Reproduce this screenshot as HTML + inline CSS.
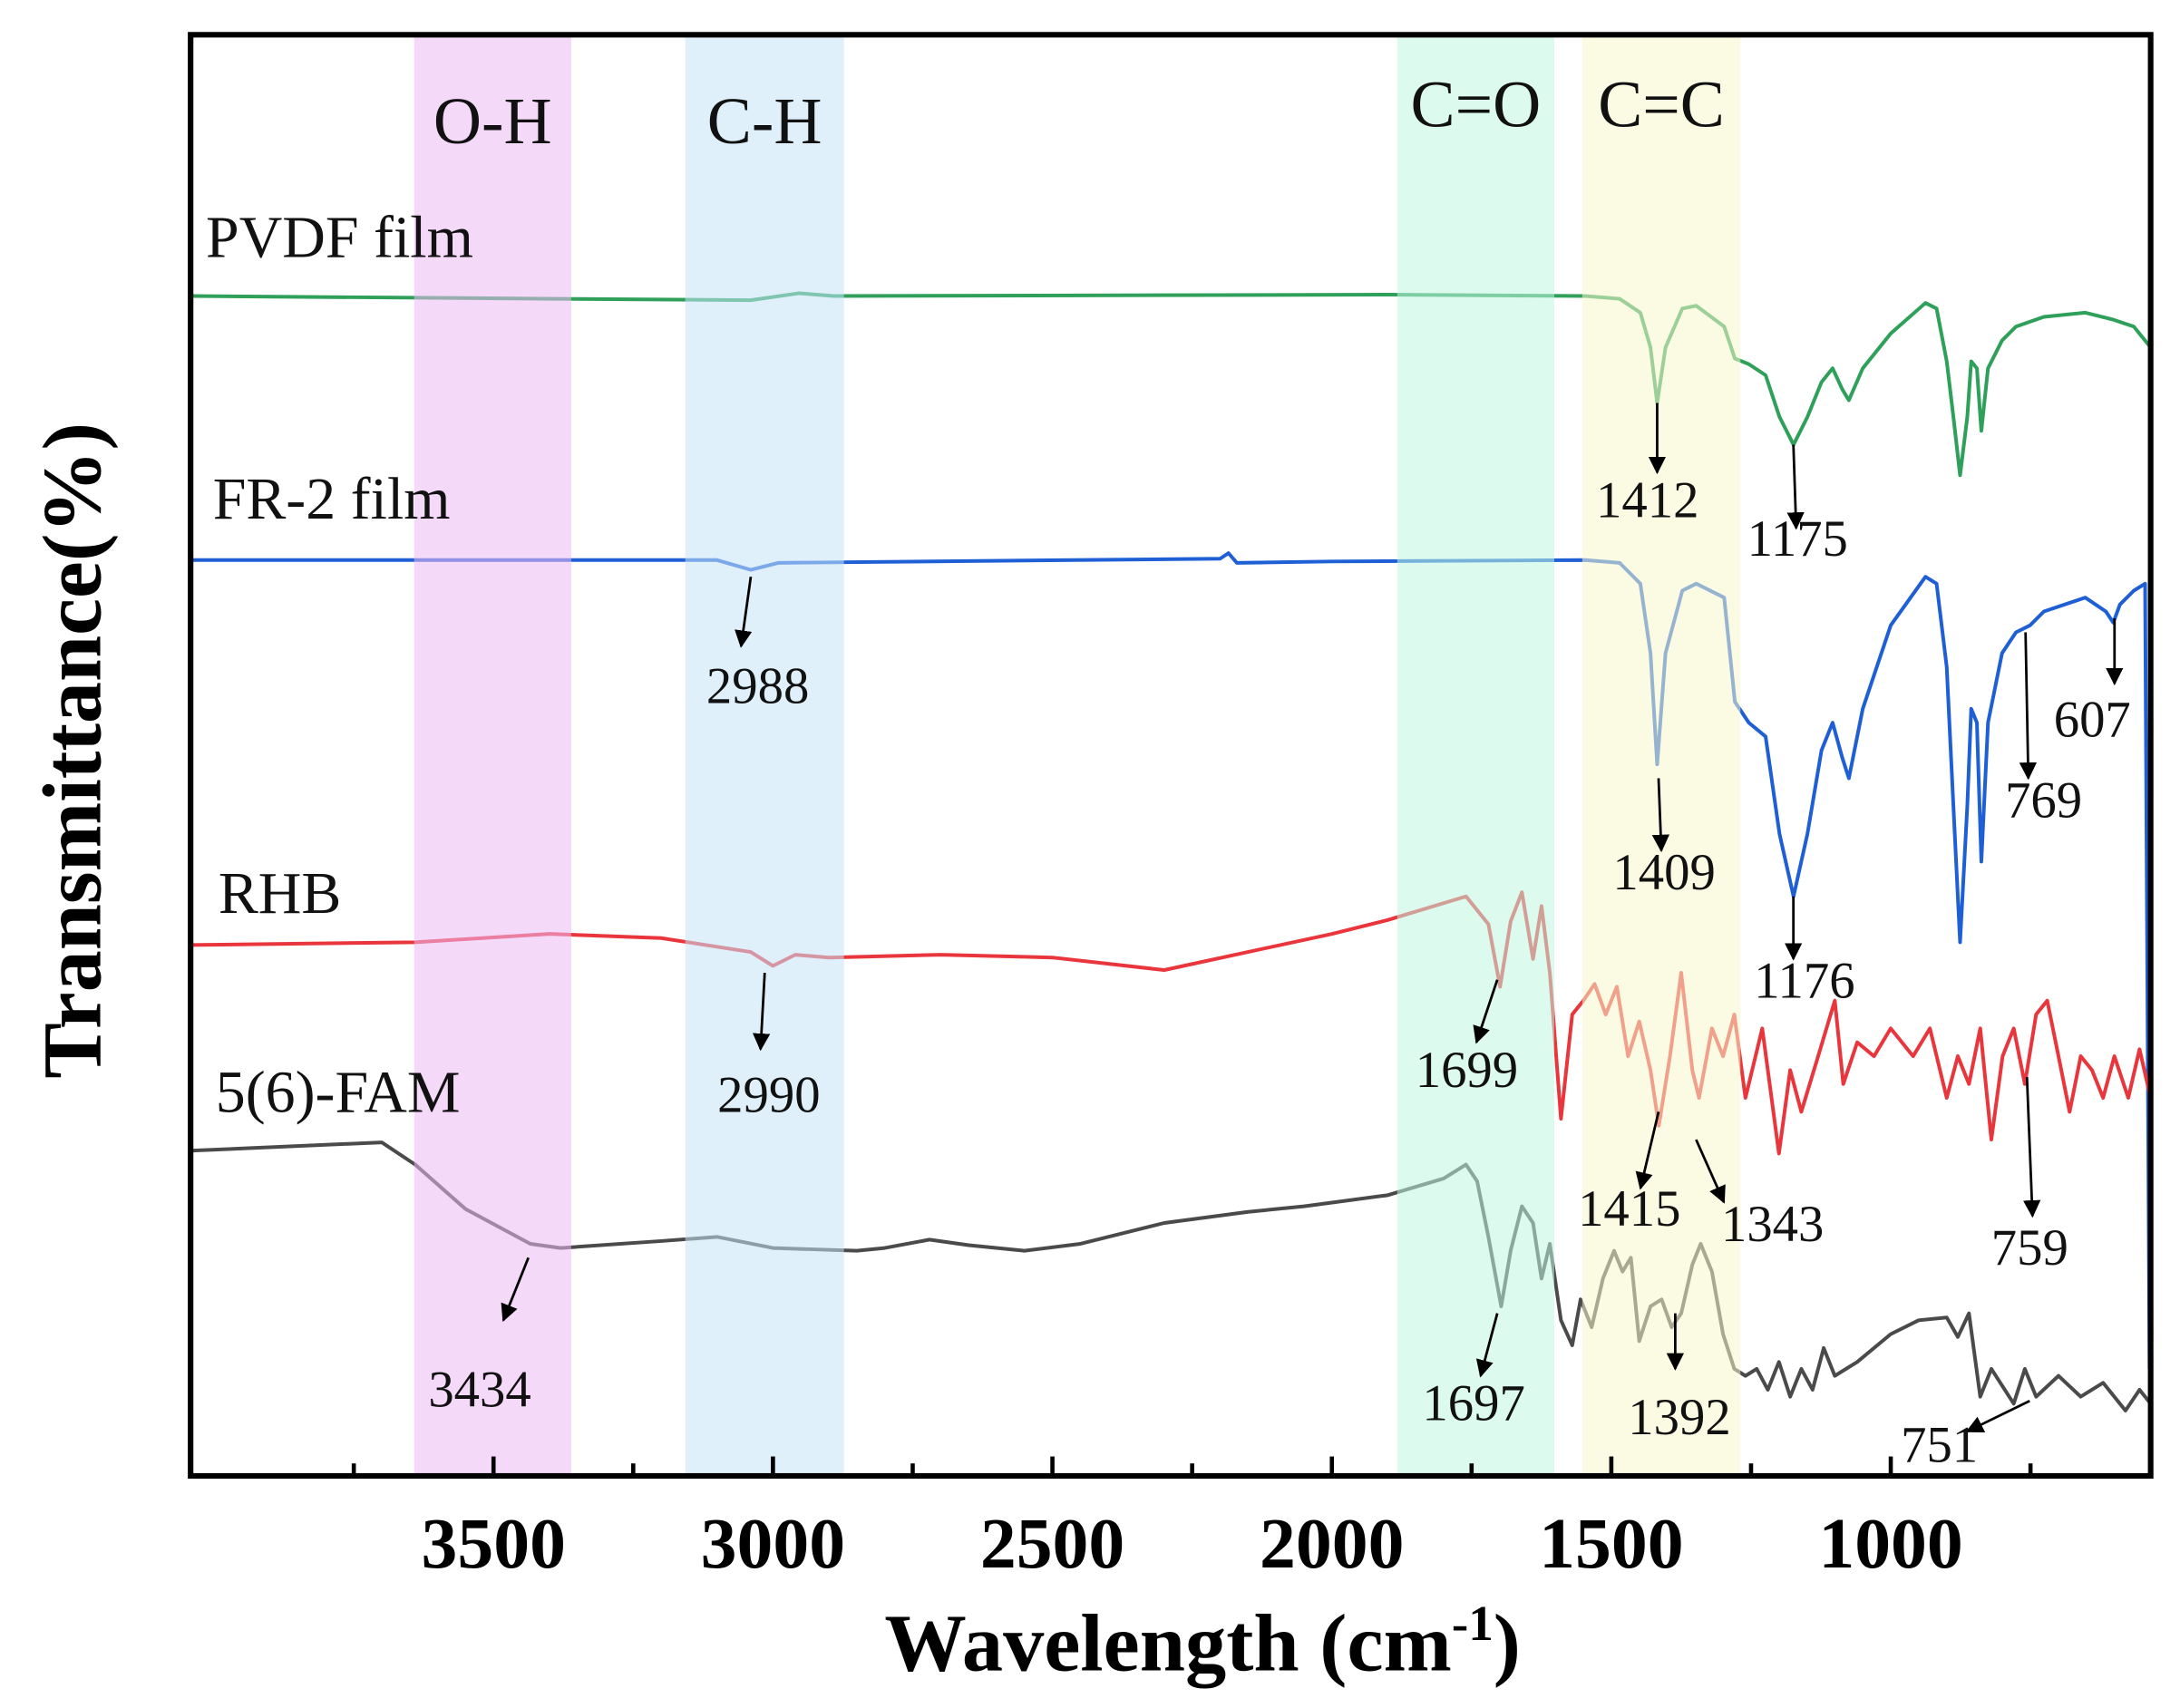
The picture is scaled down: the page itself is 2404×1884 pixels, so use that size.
<!DOCTYPE html>
<html><head><meta charset="utf-8"><style>
html,body{margin:0;padding:0;background:#fff;}
svg{display:block;}
text{font-family:"Liberation Serif",serif;}
</style></head><body>
<svg id="chart" width="2404" height="1884" viewBox="0 0 1568 1229" xmlns="http://www.w3.org/2000/svg">
<g id="series"></g>
<g id="bands"></g>
<g id="axes"></g>
<g id="ann"></g>
</svg>
<script>
const xTicks=[3500,3000,2500,2000,1500,1000];
const xMinor=[3750,3250,2750,2250,1750,1250,750];
const bandNames=["O-H","C-H","C=O","C=C"];
const bandFrom=[3642,3157,1883,1552];
const bandTo=[3361,2873,1602,1269];
const seriesNames=["PVDF film","FR-2 film","RHB","5(6)-FAM"];
const pvdfW=[4042,3388,3040,2953,2891,1896,1547,1485,1448,1430,1418,1403,1373,1348,1298,1279,1254,1224,1199,1174,1149,1124,1104,1087,1075,1050,1000,938,918,900,888,876,863,856,846,838,826,801,776,726,652,602,565,535];
const pvdfT=[84.9,84.7,84.6,85.1,84.9,85.0,84.9,84.7,83.7,81.2,77.2,81.2,84.0,84.2,82.7,80.4,80.0,79.2,76.2,74.2,76.2,78.7,79.7,78.2,77.4,79.7,82.2,84.4,84.0,80.2,76.2,72.0,76.2,80.2,79.7,75.2,79.7,81.7,82.7,83.4,83.7,83.2,82.7,81.2];
const fr2W=[4042,3100,3040,2990,2200,2185,2170,2000,1547,1485,1448,1430,1418,1403,1373,1348,1298,1279,1254,1224,1199,1174,1149,1124,1104,1087,1075,1050,1000,938,918,900,888,876,863,856,846,838,826,801,776,751,726,652,615,602,590,565,545,537];
const fr2T=[65.9,65.9,65.2,65.7,66.0,66.4,65.7,65.8,65.9,65.7,64.2,59.2,51.2,59.2,63.7,64.2,63.2,55.7,54.2,53.2,46.2,41.7,46.2,52.2,54.2,51.7,50.2,55.2,61.2,64.7,64.2,58.2,48.2,38.4,48.2,55.2,54.2,44.2,54.2,59.2,60.7,61.2,62.2,63.2,62.2,61.4,62.7,63.7,64.2,7.7];
const rhbW=[4042,3640,3400,3200,3040,3000,2960,2900,2700,2500,2300,2150,2000,1900,1760,1720,1699,1680,1660,1640,1625,1610,1590,1570,1550,1530,1510,1490,1470,1450,1430,1415,1395,1375,1355,1343,1320,1300,1280,1260,1230,1200,1180,1160,1130,1100,1085,1060,1030,1000,960,930,900,880,860,840,820,800,780,760,740,720,700,680,660,640,620,600,575,555,535];
const rhbT=[38.2,38.4,39.0,38.7,37.7,36.7,37.5,37.3,37.5,37.3,36.4,37.7,39.0,40.0,41.7,39.7,35.2,39.9,42.0,37.2,41.0,36.2,25.7,33.2,34.2,35.4,33.2,35.2,30.2,32.7,29.2,25.2,30.2,36.2,29.2,27.2,32.2,30.2,33.2,27.2,32.2,23.2,29.2,26.2,30.2,34.2,28.2,31.2,30.2,32.2,30.2,32.2,27.2,30.2,28.2,32.2,24.2,30.2,32.2,28.2,33.2,34.2,30.2,26.2,30.2,29.2,27.2,30.2,27.2,30.7,27.2];
const famW=[4042,3700,3640,3550,3434,3380,3200,3100,3000,2850,2800,2720,2650,2550,2450,2300,2150,2050,1900,1800,1760,1740,1720,1697,1680,1660,1640,1625,1610,1590,1570,1555,1535,1515,1495,1480,1465,1450,1430,1410,1392,1375,1355,1340,1320,1300,1280,1260,1240,1220,1200,1180,1160,1140,1120,1100,1060,1000,950,900,880,860,840,820,780,760,740,700,660,620,580,555,535];
const famT=[23.4,24.0,22.4,19.2,16.7,16.4,16.9,17.2,16.4,16.2,16.4,17.0,16.6,16.2,16.7,18.2,19.0,19.4,20.2,21.4,22.4,21.2,17.2,12.2,16.2,19.4,18.2,14.2,16.7,11.2,9.4,12.7,10.7,14.2,16.2,14.7,15.7,9.7,12.2,12.7,10.7,11.7,15.2,16.7,14.7,10.2,7.7,7.2,7.7,6.2,8.2,5.7,7.7,6.2,9.2,7.2,8.2,10.2,11.2,11.4,10.0,11.7,5.7,7.7,5.2,7.7,5.7,7.2,5.7,6.7,4.7,6.2,5.2];

const NS="http://www.w3.org/2000/svg";
const L=137,R=1547,T=25,B=1062;
const x=w=>L+(4042-w)/(4042-535)*(R-L);
const y=v=>B-(v/103.7)*(B-T);
function mk(tag,attrs,parent,txt){const e=document.createElementNS(NS,tag);for(const k in attrs)e.setAttribute(k,attrs[k]);if(txt!==undefined)e.textContent=txt;parent.appendChild(e);return e;}

const S=document.getElementById('series');
const colors=["#2ea05a","#1f5fd6","#e8363c","#4a4a4a"];
const Ws=[pvdfW,fr2W,rhbW,famW],Ts=[pvdfT,fr2T,rhbT,famT];
const ids=["pvdf-line","fr2-line","rhb-line","fam-line"];
for(let s=0;s<4;s++){
  const d=Ws[s].map((w,i)=>(i?'L':'M')+x(w).toFixed(1)+' '+y(Ts[s][i]).toFixed(1)).join(' ');
  const p=mk('path',{d:d,fill:'none',stroke:colors[s],'stroke-width':2.6,'stroke-linejoin':'round'},S);
  
  
}
const BG=document.getElementById('bands');
const bandFill=["#edbaf4","#c5e4f8","#bff6e0","#f8f8cc"];
const bandIds=["band-oh","band-ch","band-co","band-cc"];
for(let i=0;i<4;i++){
  const r=mk('rect',{x:x(bandFrom[i]),y:T,width:x(bandTo[i])-x(bandFrom[i]),height:B-T,fill:bandFill[i],opacity:0.55},BG);
  
  
  const t=mk('text',{x:(x(bandFrom[i])+x(bandTo[i]))/2,y:i<2?103:91,'text-anchor':'middle','font-size':48,fill:'#111'},BG,bandNames[i]);
  
  
}
const A=document.getElementById('axes');
for(const w of xTicks){
  const l=mk('line',{x1:x(w),x2:x(w),y1:B,y2:B-14,stroke:'#000','stroke-width':3},A);
  
  
  const t=mk('text',{x:x(w),y:1128,'text-anchor':'middle','font-size':52,'font-weight':'bold'},A,String(w));
  
  
}
for(const w of xMinor){
  const l=mk('line',{x1:x(w),x2:x(w),y1:B,y2:B-9,stroke:'#000','stroke-width':3},A);
  
  
}
const fr=mk('rect',{x:L,y:T,width:R-L,height:B-T,fill:'none',stroke:'#000','stroke-width':4},A);


const xt=mk('text',{x:865,y:1202,'text-anchor':'middle','font-size':59,'font-weight':'bold'},A);


xt.innerHTML='Wavelength (cm<tspan dy="-22" font-size="36">-1</tspan><tspan dy="22">)</tspan>';
const yt=mk('text',{x:0,y:0,transform:'translate(72,540) rotate(-90)','text-anchor':'middle','font-size':60,'font-weight':'bold'},A,'Transmittance(%)');



const N=document.getElementById('ann');
const labPos=[[148,185],[153,373],[157,657],[155,800]];
const labIds=["pvdf-label","fr2-label","rhb-label","fam-label"];
for(let i=0;i<4;i++){
  const t=mk('text',{x:labPos[i][0],y:labPos[i][1],'font-size':43,fill:'#111'},N,seriesNames[i]);
  
  
}
mk('defs',{},N).innerHTML='<marker id="ah" viewBox="0 0 10 10" refX="9" refY="5" markerWidth="7" markerHeight="7" orient="auto"><path d="M0 0L10 5L0 10z" fill="#000"/></marker>';
const arrows=[
 ["1412",1192,290,1192,340,1185,372],["1175",1290,320,1292,380,1293,400],["2988",540,415,533,465,545,506],
 ["1409",1193,560,1195,612,1197,640],["1176",1290,645,1290,690,1298,718],["769",1457,455,1459,560,1470,588],
 ["607",1521,445,1521,492,1505,530],["1699",1077,705,1062,750,1055,782],["2990",550,700,547,755,553,800],
 ["1415",1193,800,1180,855,1172,882],["1343",1220,820,1240,865,1275,893],["759",1458,775,1462,875,1460,910],
 ["3434",380,905,362,950,345,1012],["1697",1077,945,1065,990,1060,1022],["1392",1205,945,1205,985,1208,1032],
 ["751",1460,1008,1415,1030,1395,1052]];
for(const a of arrows){
  const l=mk('line',{x1:a[1],y1:a[2],x2:a[3],y2:a[4],stroke:'#000','stroke-width':1.8,'marker-end':'url(#ah)'},N);
  
  
  const t=mk('text',{x:a[5],y:a[6],'text-anchor':'middle','font-size':37,fill:'#111'},N,a[0]);
  
  
}
</script>
</body></html>
